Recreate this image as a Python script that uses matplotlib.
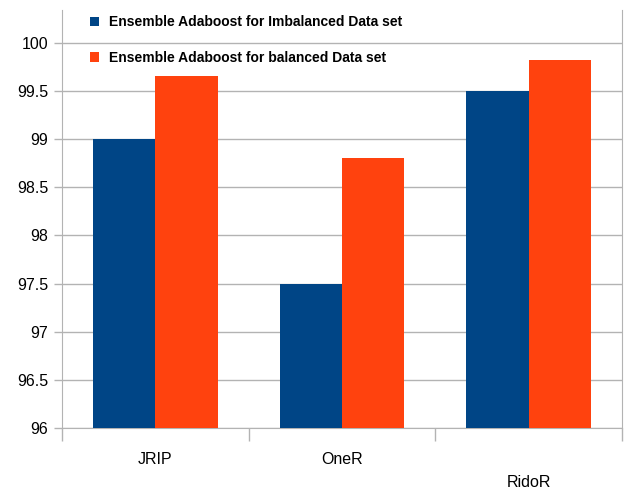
import numpy as np
import matplotlib.pyplot as plt
from matplotlib.transforms import ScaledTranslation

plt.rcParams['font.family'] = ['Liberation Sans', 'DejaVu Sans']

classifiers = ['JRIP', 'OneR', 'RidoR']
imbalanced = [99.0, 97.5, 99.5]
balanced = [99.65, 98.8, 99.82]
series_names = ['Ensemble Adaboost for Imbalanced Data set',
                'Ensemble Adaboost for balanced Data set']
yticks = [96, 96.5, 97, 97.5, 98, 98.5, 99, 99.5, 100]
ytick_labels = ['96', '96.5', '97', '97.5', '98', '98.5', '99', '99.5', '100']

blue = '#004586'
orange = '#ff420e'

fig = plt.figure(figsize=(6.24, 4.91), dpi=100)
ax = fig.add_axes([0.0994, 0.1283, 0.8974, 0.8513])

x = np.arange(len(classifiers))
w = 1 / 3
b1 = ax.bar(x - w / 2, np.array(imbalanced) - 96, w, bottom=96, color=blue, zorder=3)
b2 = ax.bar(x + w / 2, np.array(balanced) - 96, w, bottom=96, color=orange, zorder=3)

ax.set_xlim(-0.5, 2.5)
ax.set_ylim(96, 100.34)
ax.set_yticks(yticks)
ax.set_yticklabels(ytick_labels, fontsize=11.5)
ax.yaxis.grid(True, color='#b3b3b3', linewidth=1, zorder=0)
ax.tick_params(axis='y', length=6, width=1, color='#b3b3b3', pad=4)

# category boundaries get the tick marks, centers get the names
ax.set_xticks([-0.5, 0.5, 1.5, 2.5])
ax.set_xticklabels([])
ax.tick_params(axis='x', which='major', length=9, width=1, color='#b3b3b3')
ax.set_xticks(x, minor=True)
ax.set_xticklabels(classifiers, minor=True, fontsize=11.5)
ax.tick_params(axis='x', which='minor', length=0, pad=17)
lbl = ax.get_xticklabels(minor=True)[2]
lbl.set_transform(lbl.get_transform() + ScaledTranslation(0, -0.23, fig.dpi_scale_trans))

for side in ['left', 'bottom', 'right']:
    ax.spines[side].set_color('#b3b3b3')
ax.spines['top'].set_visible(False)

ax.legend([b1, b2], series_names, loc='upper left', bbox_to_anchor=(0.027, 1.017),
          frameon=False, handlelength=0.65, handleheight=0.65, handletextpad=0.75,
          labelspacing=1.55, prop={'weight': 'bold', 'size': 10})

fig.savefig('out.png', dpi=100)
